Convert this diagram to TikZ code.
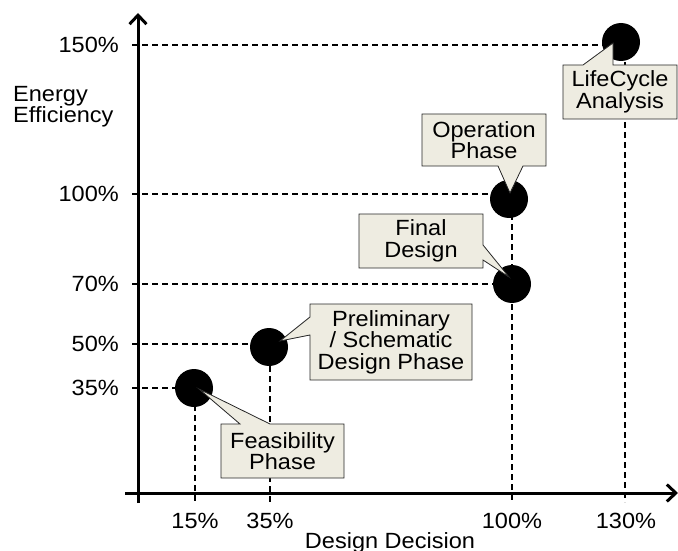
\documentclass[tikz,border=0pt]{standalone}
\usepackage{fontspec}
\setmainfont{Liberation Sans}[FakeStretch=1.07]
\usetikzlibrary{positioning,calc,arrows.meta}
\definecolor{boxfill}{RGB}{238,236,225}

\begin{document}
\begin{tikzpicture}[x=1pt, y=-1pt,
  every node/.style={font=\fontsize{22}{21.5}\selectfont},
  phasedot/.style={circle, fill=black, minimum size=38pt, inner sep=0pt},
  calloutline/.style={draw=black!85, line width=.8pt, fill=boxfill},
  boxtext/.style={align=center, inner sep=0pt},
  guide/.style={dash pattern=on 6pt off 4pt, line width=1.6pt},
  axisline/.style={line width=3pt, -{Straight Barb[length=9pt, width=17pt]}},
  ticklbl/.style={inner sep=0pt}]
\useasboundingbox (0,0) rectangle (678,551);

% tick ends on the axes
\coordinate (y35) at (132,388);
\coordinate (y50) at (132,344);
\coordinate (y70) at (132,284);
\coordinate (y100) at (132,194);
\coordinate (y150) at (132,45);
\coordinate (x15) at (195,502);
\coordinate (x35) at (270,502);
\coordinate (x100) at (512,502);
\coordinate (x130) at (625,502);

\draw[guide] (y35) -| (x15);
\draw[guide] (y50) -| (x35);
\draw[guide] (y70) -| (x100);
\draw[guide] (y100) -| (x100);
\draw[guide] (y150) -| (x130);

% axes
\coordinate (xbeg) at (125,493);
\coordinate (xend) at (678,493);
\coordinate (ybeg) at (138,503);
\coordinate (yend) at (138,13);
\draw[axisline] (xbeg) -- (xend);
\draw[axisline] (ybeg) -- (yend);

\node[ticklbl, anchor=east] (l150) at (119,45) {150\%};
\node[ticklbl, anchor=east] (l100) at (119,194) {100\%};
\node[ticklbl, anchor=east] (l70) at (119,284) {70\%};
\node[ticklbl, anchor=east] (l50) at (119,344) {50\%};
\node[ticklbl, anchor=east] (l35) at (119,388) {35\%};
\node[ticklbl] (b15) at (195,521) {15\%};
\node[ticklbl] (b35) at (270,521) {35\%};
\node[ticklbl] (b100) at (512,521) {100\%};
\node[ticklbl] (b130) at (626,521) {130\%};
\node[ticklbl, align=left, anchor=north west] (ytitle) at (13,86) {Energy\\Efficiency};
\node[ticklbl, anchor=base] (xtitle) at (390,548) {Design Decision};

% phases
\node[phasedot] (feas) at (194,388) {};
\node[phasedot] (prel) at (269,347) {};
\node[phasedot] (final) at (512,284) {};
\node[phasedot] (oper) at (509,199) {};
\node[phasedot] (life) at (621,42) {};

% callouts
\draw[calloutline] (221,424) -- (240,424) -- ($(feas)+(5,1)$) -- (270,424) -- (344,424)
  -- (344,478) -- (221,478) -- cycle;
\node[boxtext] (feasbox) at (282.5,451) {Feasibility\\Phase};

\draw[calloutline] (310,304) -- (472,304) -- (472,380) -- (310,380) -- (310,335)
  -- ($(prel)+(11,-6)$) -- (310,317) -- cycle;
\node[boxtext] (prelbox) at (391,342) {Preliminary\\/ Schematic\\Design Phase};

\draw[calloutline] (359,214) -- (483,214) -- (483,245) -- ($(final)+(-3,-7)$) -- (483,260)
  -- (483,268) -- (359,268) -- cycle;
\node[boxtext] (finalbox) at (421,241) {Final\\Design};

\draw[calloutline] (422,114) -- (546,114) -- (546,166) -- (523,166) -- ($(oper)+(1,-6)$)
  -- (498,166) -- (422,166) -- cycle;
\node[boxtext] (operbox) at (484,140) {Operation\\Phase};

\draw[calloutline] (563,65) -- (583,65) -- ($(life)+(-8,1)$) -- (613,65) -- (677,65)
  -- (677,119) -- (563,119) -- cycle;
\node[boxtext] (lifebox) at (620,92) {LifeCycle\\Analysis};
\end{tikzpicture}
\end{document}
